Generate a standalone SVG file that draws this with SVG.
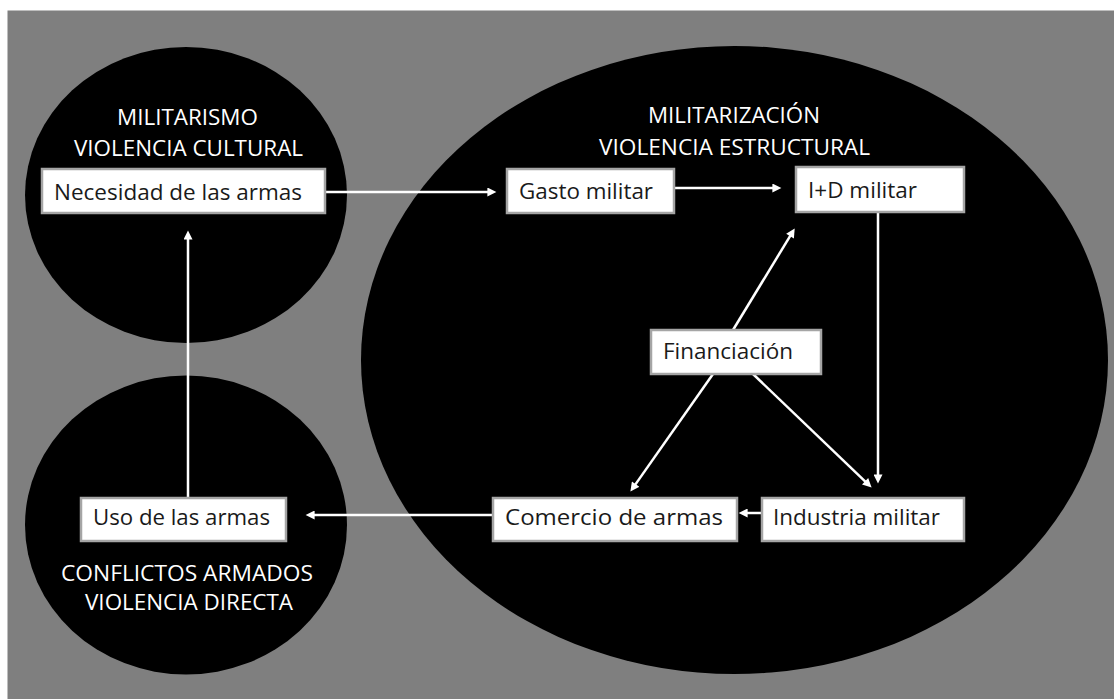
<svg xmlns="http://www.w3.org/2000/svg" width="1114" height="699" viewBox="0 0 1114 699">
<style>
.zone{fill:#000}
.box{fill:#fff;stroke:#a5a5a5;stroke-width:2.5}
.bt{font-family:"Open Sans","Noto Sans",sans-serif;font-size:22px;fill:#1a1a1a}
.tt{font-family:"Open Sans","Noto Sans",sans-serif;font-size:22px;fill:#fff;text-anchor:middle}
.c line{stroke:#fff;stroke-width:2.5;fill:none;marker-end:url(#ah)}
</style>
<defs>
<marker id="ah" viewBox="0 0 10 10" refX="4" refY="5" markerWidth="10" markerHeight="9" markerUnits="userSpaceOnUse" orient="auto">
<path d="M0,0 L10,5 L0,10 z" fill="#fff"/>
</marker>
</defs>
<rect x="0" y="0" width="1114" height="699" fill="#fff"/>
<rect x="7.5" y="10.5" width="1106.5" height="688.5" fill="#7f7f7f"/>

<g id="militarismo">
<ellipse class="zone" cx="186" cy="195" rx="161" ry="148"/>
<text class="tt" x="187.5" y="125" textLength="141" lengthAdjust="spacingAndGlyphs">MILITARISMO</text>
<text class="tt" x="188.5" y="156" textLength="229" lengthAdjust="spacingAndGlyphs">VIOLENCIA CULTURAL</text>
</g>
<g id="conflictos">
<ellipse class="zone" cx="186" cy="525" rx="161" ry="149.5"/>
<text class="tt" x="187" y="581" textLength="252" lengthAdjust="spacingAndGlyphs">CONFLICTOS ARMADOS</text>
<text class="tt" x="189" y="610" textLength="208" lengthAdjust="spacingAndGlyphs">VIOLENCIA DIRECTA</text>
</g>
<g id="militarizacion">
<ellipse class="zone" cx="734.5" cy="360" rx="373.5" ry="314"/>
<text class="tt" x="734" y="123" textLength="172" lengthAdjust="spacingAndGlyphs">MILITARIZACIÓN</text>
<text class="tt" x="734.5" y="155" textLength="271" lengthAdjust="spacingAndGlyphs">VIOLENCIA ESTRUCTURAL</text>
</g>

<g class="c" id="connectors">
<line x1="325" y1="192" x2="491" y2="192"/>
<line x1="674" y1="188" x2="776" y2="188"/>
<line x1="878" y1="212" x2="878" y2="478"/>
<line x1="733" y1="330" x2="791.9" y2="233.1"/>
<line x1="713" y1="374" x2="633.5" y2="487.1"/>
<line x1="753" y1="374" x2="867.7" y2="483.8"/>
<line x1="762" y1="513" x2="744" y2="513"/>
<line x1="493" y1="515" x2="311" y2="515"/>
<line x1="188" y1="498" x2="188" y2="236"/>
</g>

<g id="necesidad">
<rect class="box" x="42" y="169" width="283" height="44"/>
<text class="bt" x="54" y="200" textLength="248" lengthAdjust="spacingAndGlyphs">Necesidad de las armas</text>
</g>
<g id="gasto">
<rect class="box" x="507" y="169" width="167" height="44"/>
<text class="bt" x="519" y="199" textLength="134" lengthAdjust="spacingAndGlyphs">Gasto militar</text>
</g>
<g id="imasd">
<rect class="box" x="796" y="167" width="168" height="45"/>
<text class="bt" x="808" y="198" textLength="109" lengthAdjust="spacingAndGlyphs">I+D militar</text>
</g>
<g id="financiacion">
<rect class="box" x="651" y="330" width="170" height="44"/>
<text class="bt" x="663" y="359" textLength="130" lengthAdjust="spacingAndGlyphs">Financiación</text>
</g>
<g id="industria">
<rect class="box" x="762" y="498" width="202" height="43"/>
<text class="bt" x="773" y="525" textLength="167" lengthAdjust="spacingAndGlyphs">Industria militar</text>
</g>
<g id="comercio">
<rect class="box" x="493" y="498" width="244" height="43"/>
<text class="bt" x="505" y="525" textLength="218" lengthAdjust="spacingAndGlyphs">Comercio de armas</text>
</g>
<g id="uso">
<rect class="box" x="81" y="498" width="205" height="43"/>
<text class="bt" x="93" y="525" textLength="177" lengthAdjust="spacingAndGlyphs">Uso de las armas</text>
</g>
</svg>
